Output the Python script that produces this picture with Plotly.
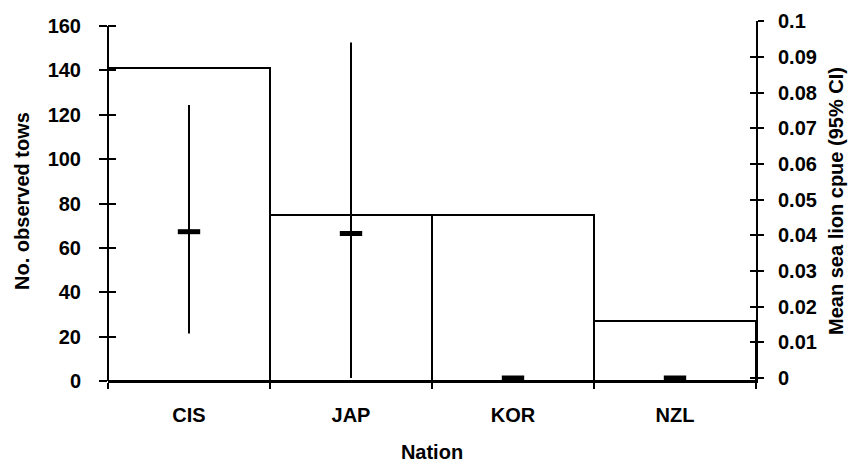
import plotly.graph_objects as go

nations = ["CIS", "JAP", "KOR", "NZL"]
tows = [141, 75, 75, 27]
cpue_mean = [0.041, 0.0405, 0.0, 0.0]
cpue_upper = [0.0765, 0.094, 0.0, 0.0]
cpue_lower = [0.0125, 0.0, 0.0, 0.0]
left_ticks = [0, 20, 40, 60, 80, 100, 120, 140, 160]
right_ticks = [0, 0.01, 0.02, 0.03, 0.04, 0.05, 0.06, 0.07, 0.08, 0.09, 0.1]

err_plus = [u - m for u, m in zip(cpue_upper, cpue_mean)]
err_minus = [m - l for m, l in zip(cpue_mean, cpue_lower)]

FONT = "Liberation Sans, Arial, sans-serif"
left_range = [0, 162.3]
right_range = [-0.00084, 0.10005]

fig = go.Figure()
fig.add_trace(go.Bar(
    x=nations, y=tows, marker=dict(color="white", line=dict(color="black", width=2)),
    width=1.0, showlegend=False, hoverinfo="skip"))
fig.add_trace(go.Scatter(
    x=nations, y=cpue_mean, yaxis="y2", mode="markers",
    marker=dict(symbol="line-ew", size=16, color="black", line=dict(color="black", width=5)),
    error_y=dict(type="data", symmetric=False, array=err_plus, arrayminus=err_minus,
                 color="black", thickness=2, width=0),
    showlegend=False))
# invisible traces to activate the inner-tick overlay axes
fig.add_trace(go.Scatter(x=nations, y=[None]*4, yaxis="y3", showlegend=False, hoverinfo="skip"))
fig.add_trace(go.Scatter(x=nations, y=[None]*4, yaxis="y4", showlegend=False, hoverinfo="skip"))

tickfont = dict(family=FONT, size=20, color="black", weight="bold")
titlefont = dict(family=FONT, size=20, color="black", weight="bold")
# page body has an 8px default margin, so the figure is 8px smaller on each axis
fig.update_layout(
    width=851, height=460,
    margin=dict(l=100, r=103, t=13, b=87),
    paper_bgcolor="white", plot_bgcolor="white",
    bargap=0,
    xaxis=dict(type="category", categoryorder="array", categoryarray=nations,
               showline=True, linecolor="black", linewidth=2, automargin=False,
               ticks="outside", ticklen=6, tickwidth=1.5, tickcolor="black",
               tickson="boundaries", showgrid=False, zeroline=False,
               tickfont=tickfont, ticklabelstandoff=15,
               title=dict(text="Nation", font=titlefont, standoff=20)),
    yaxis=dict(range=left_range, tickvals=left_ticks, showline=False, automargin=False,
               ticks="outside", ticklen=8, tickwidth=1.5, tickcolor="black",
               showgrid=False, zeroline=False, tickfont=tickfont, ticklabelstandoff=14,
               title=dict(text="No. observed tows", font=titlefont, standoff=12)),
    yaxis2=dict(range=right_range, tickvals=right_ticks, overlaying="y", side="right",
                showline=True, linecolor="black", linewidth=2, automargin=False,
                ticks="outside", ticklen=6, tickwidth=1.5, tickcolor="black",
                showgrid=False, zeroline=False, tickfont=tickfont, ticklabelstandoff=10,
                title=dict(text="Mean sea lion cpue (95% CI)", font=titlefont, standoff=12)),
    yaxis3=dict(range=left_range, tickvals=left_ticks, overlaying="y", side="left",
                showline=False, ticks="inside", ticklen=8, tickwidth=1.5, tickcolor="black",
                showticklabels=False, showgrid=False, zeroline=False, automargin=False),
    yaxis4=dict(range=right_range, tickvals=right_ticks, overlaying="y", side="right",
                showline=False, ticks="inside", ticklen=6, tickwidth=1.5, tickcolor="black",
                showticklabels=False, showgrid=False, zeroline=False, automargin=False),
    shapes=[dict(type="line", xref="paper", yref="y", x0=0, x1=0, y0=0, y1=160,
                 line=dict(color="black", width=2))],
)

fig.write_html("out.html")
